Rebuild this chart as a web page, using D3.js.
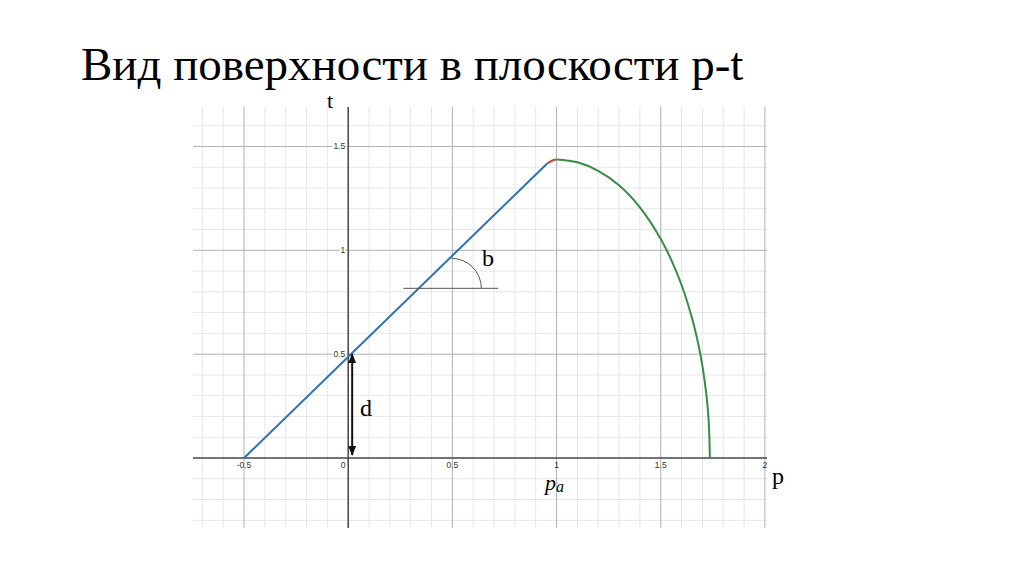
<!DOCTYPE html>
<html><head><meta charset="utf-8">
<script src="https://cdn.jsdelivr.net/npm/d3@7"></script>
<style>body{margin:0;background:#fff}svg{display:block}</style>
</head><body>
<svg id="c" width="1024" height="574"></svg>
<script>
const titleText = "Вид поверхности в плоскости p-t";
const xTicks = [-0.5, 0, 0.5, 1, 1.5, 2];
const xTickLabels = ["-0.5", "0", "0.5", "1", "1.5", "2"];
const yTicks = [0.5, 1, 1.5];
const yTickLabels = ["0.5", "1", "1.5"];
// blue line (p, t)
const lineP = [-0.5, 0.955];
const lineT = [0, 1.418];
// red transition
const redP = [0.955, 0.975, 0.99, 1.0];
const redT = [1.418, 1.430, 1.436, 1.4375];
// green curve
const greenP = [1.0, 1.1, 1.2, 1.3, 1.4, 1.5, 1.55, 1.6, 1.65, 1.68, 1.7, 1.72, 1.73, 1.736];
const greenT = [1.4375, 1.424, 1.383, 1.313, 1.207, 1.055, 0.955, 0.833, 0.674, 0.550, 0.444, 0.297, 0.180, 0];
// annotations
const arrowP = 0.019, arrowT = [0.5, 0.015];
const angleLineP = [0.264, 0.72], angleT = 0.817;
const arcCenterP = 0.495, arcR = 0.144;

const svg = d3.select("#c");
const x = d3.scaleLinear().domain([-0.745, 2.01]).range([193, 767]);
const y = d3.scaleLinear().domain([-0.337, 1.69]).range([528, 107]);

svg.append("text").attr("x", 81).attr("y", 80)
  .attr("font-family", "Liberation Serif, Times New Roman, serif")
  .attr("font-size", 47).attr("fill", "#000").text(titleText);

const g = svg.append("g");
const [x0, x1] = x.domain(), [y0, y1] = y.domain();
const minorX = d3.range(-7, 21).map(v => v / 10).filter(v => v >= x0 && v <= x1);
const minorY = d3.range(-3, 17).map(v => v / 10).filter(v => v >= y0 && v <= y1);
const isMajor = v => Math.abs(v * 2 - Math.round(v * 2)) < 1e-6;

g.selectAll(".vx").data(minorX.filter(v => !isMajor(v))).join("line")
  .attr("x1", d => x(d)).attr("x2", d => x(d)).attr("y1", y(y1)).attr("y2", y(y0))
  .attr("stroke", "#e6e6e6").attr("stroke-width", 1);
g.selectAll(".hy").data(minorY.filter(v => !isMajor(v))).join("line")
  .attr("y1", d => y(d)).attr("y2", d => y(d)).attr("x1", x(x0)).attr("x2", x(x1))
  .attr("stroke", "#e6e6e6").attr("stroke-width", 1);
g.selectAll(".vX").data(minorX.filter(v => isMajor(v) && v !== 0)).join("line")
  .attr("x1", d => x(d)).attr("x2", d => x(d)).attr("y1", y(y1)).attr("y2", y(y0))
  .attr("stroke", "#b0b0b0").attr("stroke-width", 1);
g.selectAll(".hY").data(minorY.filter(v => isMajor(v) && v !== 0)).join("line")
  .attr("y1", d => y(d)).attr("y2", d => y(d)).attr("x1", x(x0)).attr("x2", x(x1))
  .attr("stroke", "#b0b0b0").attr("stroke-width", 1);

// axes
g.append("line").attr("x1", x(x0)).attr("x2", x(x1)).attr("y1", y(0)).attr("y2", y(0))
  .attr("stroke", "#444").attr("stroke-width", 1.5);
g.append("line").attr("x1", x(0)).attr("x2", x(0)).attr("y1", y(y1)).attr("y2", y(y0))
  .attr("stroke", "#444").attr("stroke-width", 1.5);

// tick labels
const tl = g.append("g").attr("font-family", "Arial, Liberation Sans, sans-serif")
  .attr("font-size", 8.5).attr("fill", "#333");
tl.selectAll(".xt").data(xTicks).join("text")
  .attr("x", d => d === 0 ? x(d) - 5 : x(d)).attr("y", y(0) + 10)
  .attr("text-anchor", "middle").text((d, i) => xTickLabels[i]);
tl.selectAll(".yt").data(yTicks).join("text")
  .attr("x", x(0) - 3).attr("y", d => y(d) + 3)
  .attr("text-anchor", "end")
  .attr("stroke", "#fff").attr("stroke-width", 3).attr("paint-order", "stroke")
  .text((d, i) => yTickLabels[i]);

// curves
const ln = d3.line().x(d => x(d[0])).y(d => y(d[1]));
g.append("path").attr("d", ln(lineP.map((p, i) => [p, lineT[i]])))
  .attr("fill", "none").attr("stroke", "#2d70b3").attr("stroke-width", 2);
g.append("path").attr("d", d3.line().curve(d3.curveMonotoneX).x(d => x(d[0])).y(d => y(d[1]))(redP.map((p, i) => [p, redT[i]])))
  .attr("fill", "none").attr("stroke", "#c74440").attr("stroke-width", 2);
g.append("path").attr("d", d3.line().curve(d3.curveCatmullRom).x(d => x(d[0])).y(d => y(d[1]))(greenP.map((p, i) => [p, greenT[i]])))
  .attr("fill", "none").attr("stroke", "#388c46").attr("stroke-width", 2);

// angle annotation
g.append("line").attr("x1", x(angleLineP[0])).attr("x2", x(angleLineP[1]))
  .attr("y1", y(angleT)).attr("y2", y(angleT)).attr("stroke", "#555").attr("stroke-width", 1);
const cx = x(arcCenterP), cy = y(angleT), r = x(arcR) - x(0);
g.append("path").attr("d", `M${cx},${cy - r} A${r},${r} 0 0 1 ${cx + r},${cy}`)
  .attr("fill", "none").attr("stroke", "#555").attr("stroke-width", 1);

// arrow
const defs = svg.append("defs");
defs.append("marker").attr("id", "ah").attr("viewBox", "0 0 10 10").attr("refX", 9).attr("refY", 5)
  .attr("markerWidth", 5).attr("markerHeight", 5).attr("orient", "auto-start-reverse")
  .append("path").attr("d", "M0,1 L10,5 L0,9 Z").attr("fill", "#111");
g.append("line").attr("x1", x(arrowP)).attr("x2", x(arrowP))
  .attr("y1", y(arrowT[0])).attr("y2", y(arrowT[1]))
  .attr("stroke", "#111").attr("stroke-width", 2)
  .attr("marker-start", "url(#ah)").attr("marker-end", "url(#ah)");

// labels
const serif = "Liberation Serif, Times New Roman, serif";
const lab = (t, px, py, fs, style) => svg.append("text").attr("x", px).attr("y", py)
  .attr("font-family", serif).attr("font-size", fs).attr("font-style", style || "normal")
  .attr("fill", "#000").text(t);
lab("t", 327, 108, 22);
lab("p", 772, 484, 24);
lab("d", 360, 416, 24);
lab("b", 482, 266, 24);
const pa = svg.append("text").attr("x", 545).attr("y", 490).attr("font-family", serif)
  .attr("font-size", 22).attr("font-style", "italic").attr("fill", "#000");
pa.append("tspan").text("p");
pa.append("tspan").attr("font-size", 16).attr("dy", 2).text("a");
</script>
</body></html>
